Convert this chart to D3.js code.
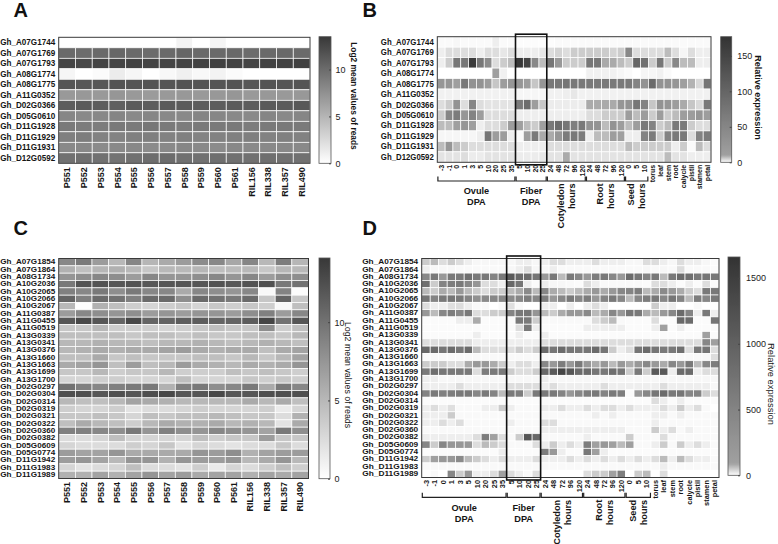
<!DOCTYPE html>
<html><head><meta charset="utf-8">
<script src="https://cdn.jsdelivr.net/npm/d3@7"></script>
<style>
body{margin:0;background:#fff}
svg{display:block}
</style>
</head><body>
<svg id="chart" width="778" height="544"></svg>
<script>
// ---------------- DATA ----------------
const accessions = ["P551","P552","P553","P554","P555","P556","P557","P558","P559","P560","P561","RIL156","RIL338","RIL357","RIL490"];
const tissueLabels = ["-3","-1","0","1","3","5","10","20","25","35","5","10","20","25","24","48","72","96","120","24","48","72","96","120","0","5","10","torus","leaf","stem","root","calycle","pistil","stamen","petal"];
const groupNames = [["Ovule","DPA"],["Fiber","DPA"],["Cotyledon","hours"],["Root","hours"],["Seed","hours"]];
const groupRanges = [[0,9],[10,13],[14,18],[19,23],[24,26]];

const genesAB = ["Gh_A07G1744","Gh_A07G1769","Gh_A07G1793","Gh_A08G1774","Gh_A08G1775","Gh_A11G0352","Gh_D02G0366","Gh_D05G0610","Gh_D11G1928","Gh_D11G1929","Gh_D11G1931","Gh_D12G0592"];
const genesCD = ["Gh_A07G1854","Gh_A07G1864","Gh_A08G1734","Gh_A10G2036","Gh_A10G2065","Gh_A10G2066","Gh_A10G2067","Gh_A11G0387","Gh_A11G0455","Gh_A11G0519","Gh_A13G0339","Gh_A13G0341","Gh_A13G0376","Gh_A13G1660","Gh_A13G1663","Gh_A13G1699","Gh_A13G1700","Gh_D02G0297","Gh_D02G0304","Gh_D02G0314","Gh_D02G0319","Gh_D02G0321","Gh_D02G0322","Gh_D02G0360","Gh_D02G0382","Gh_D05G0609","Gh_D05G0774","Gh_D11G1942","Gh_D11G1983","Gh_D11G1989"];

// Panel A: log2 mean values of reads
const valuesA = [
 [0,0,0,0,0,0,0,0.8,0,0.7,0,0,0,0,0],
 [10.1,10.0,10.1,10.3,10.1,10.0,10.1,10.4,10.2,10.1,10.2,10.0,10.1,10.2,10.1],
 [12.6,12.4,12.7,12.7,12.8,12.7,12.6,12.7,12.8,12.9,12.8,12.7,12.8,12.8,12.9],
 [0.6,0,0.3,1.3,0.6,0,0.5,1.0,0.5,0.8,0.3,0,0,0,0],
 [11.5,11.4,11.4,11.6,11.5,11.6,11.5,11.7,11.6,11.5,11.6,11.4,11.6,11.5,11.6],
 [6.9,7.0,6.9,7.1,6.9,6.8,6.9,7.0,6.9,7.0,7.1,6.9,7.0,6.9,7.0],
 [11.0,11.2,11.0,10.8,11.1,11.0,11.2,11.1,11.0,11.0,11.1,11.0,11.2,11.1,11.3],
 [8.2,8.0,8.1,8.3,8.0,8.2,8.1,8.0,8.3,8.2,8.1,8.0,8.3,8.1,8.2],
 [9.0,8.9,8.8,9.1,9.0,9.2,9.0,8.9,9.1,9.0,9.1,8.9,9.0,9.1,9.0],
 [8.6,8.8,8.5,8.4,8.6,8.7,8.5,8.6,8.4,8.5,8.6,8.7,8.5,8.6,8.5],
 [8.0,8.1,7.9,8.0,8.1,7.9,8.0,8.2,8.0,7.9,8.1,8.0,8.0,8.1,8.0],
 [9.6,9.8,9.6,9.5,9.7,9.9,10.0,9.7,9.6,9.8,9.7,9.6,9.8,9.7,9.6]
];

// Panel B: relative expression
const valuesB = [
 [0.5,0.5,0.8,0.5,0.5,0.5,0.5,1.8,0.5,0.5, 0.3,0.3,0.3,0.3, 0.3,0.5,0.5,0.5,0.5, 0.5,0.5,0.5,0.5,0.5, 0.5,0.5,0.5, 0.5,0.5,0.5,0.5,0.5,0.5,0.5,0.5],
 [1.8,3.6,3.6,3.6,3.6,1.8,3.6,3.6,2.5,3.6, 1.8,1.8,1.8,2.5, 3.6,4.5,3.6,5.4,5.4, 5.4,5.4,5.4,4.5,5.4, 47,3.6,3.6, 3.6,3.6,7.1,3.6,1.0,3.6,1.8,1.8],
 [1.8,5.4,73,73,165,73,40,3.6,5.4,7.1, 170,151,47,7.1, 73,21,5.4,5.4,5.4, 73,73,9,9,7.1, 5.4,99,80, 5.4,73,5.4,47,7.1,7.1,1.8,1.8],
 [0,0,0,0,0,0,0,12,1.5,0, 0,0,0,0, 0,0,0,0,0, 1.5,1.5,1.5,1.5,1, 0.5,0,1, 1,1.5,0.5,0,0,0,0,0],
 [25,25,12,70,30,30,15,6,15,25, 25,15,6,25, 70,70,75,70,70, 70,70,72,70,70, 70,55,30, 90,30,30,25,12,8,4,75],
 [1.5,1.5,1.5,1.5,1.5,1.5,1.5,1.5,1.5,1.5, 1,1,1,1, 1.5,1.5,1.8,2.5,1.5, 1.5,1.5,1.5,1.5,1.5, 1.5,1.5,1.5, 1.5,1.5,1.5,1.5,1.5,1.5,1.5,1.5],
 [3.6,5.4,30,3.6,50,3.6,3,3,3,3, 70,90,15,6, 2,2,2,2,2, 9,9,9,9,25, 30,75,55, 6,30,25,15,9,6,4,70],
 [5.4,50,65,25,55,15,3.6,3.6,3.6,3.6, 1.8,1.8,1.8,1.8, 1.8,1.8,1.8,1.8,1.8, 3.6,3.6,5.4,5.4,5.4, 15,7.1,15, 5.4,15,5.4,7.1,15,15,25,15],
 [7.1,7.1,12,25,12,1.8,3.6,3.6,5.4,15, 12,7.1,5.4,12, 70,90,75,60,70, 30,30,7.1,30,15, 7.1,15,70, 55,5.4,7.1,70,70,5.4,3.6,3.6],
 [1,1,1,1,1,1.8,75,15,15,1.8, 0.5,15,70,9, 9,25,65,70,65, 1.8,7.1,7.1,15,12, 1.8,1.8,55, 65,5.4,55,70,70,3.6,55,65],
 [7.1,25,7.1,5.4,3.6,3.6,3.6,3.6,3.6,3.6, 1.8,1.8,1.8,1.8, 3.6,3.6,3.6,3.6,3.6, 3.6,3.6,3.6,3.6,3.6, 7.1,5.4,5.4, 5.4,5.4,5.4,1.8,5.4,0.5,7.1,3.6],
 [3,3,3,3.6,2,2,3,3,3,3, 2,2,2,2.5, 3,3,9,3,3, 3,3,3,3,3, 3,3,3, 3,3,7.1,3,3,1.8,1.8,1.8]
];

// Panel C: log2 mean values of reads
const valuesC = [
 [8.4,9.4,7.0,5.0,8.6,5.2,6.0,7.0,8.2,8.4,6.2,8.6,5.0,9.2,5.2],
 [5.5,4.5,5.2,5.5,5.0,4.0,5.0,5.0,5.2,4.6,4.8,5.0,4.0,5.2,5.0],
 [7.5,8.0,8.5,8.0,7.0,8.5,7.5,7.5,8.0,8.5,7.5,8.5,7.0,8.0,8.0],
 [9.5,12.2,12.2,12.0,12.2,11.8,12.0,12.0,12.0,12.2,11.8,12.2,12.4,9.6,10.0],
 [9.0,8.5,9.5,8.0,9.5,8.5,8.5,6.0,8.5,8.0,7.5,8.5,0.5,8.8,0.2],
 [11.0,9.0,10.5,10.0,9.0,10.5,10.5,8.0,10.5,10.0,9.5,10.5,4.0,11.0,4.0],
 [5.0,0.1,5.5,4.5,3.5,3.0,3.5,4.0,3.0,4.0,3.5,4.0,3.5,0.5,4.5],
 [7.0,8.5,8.0,7.5,8.0,7.0,7.5,7.0,7.5,7.5,7.0,8.0,9.0,7.0,8.5],
 [12.0,13.0,12.0,11.0,13.0,11.0,11.0,11.5,11.5,11.0,11.0,11.5,13.2,10.0,12.0],
 [4.0,4.0,5.0,3.5,3.5,3.5,3.0,3.5,4.0,4.5,4.0,4.0,8.0,3.5,4.5],
 [4.5,4.5,4.5,4.5,4.0,4.5,4.5,4.0,4.5,4.0,4.0,4.5,4.5,4.0,5.0],
 [5.0,5.0,5.5,5.0,5.0,4.5,5.0,5.0,5.5,5.0,4.5,5.0,5.5,5.0,4.5],
 [5.0,5.5,6.0,5.5,6.0,6.0,6.5,7.0,6.0,5.5,6.0,6.0,4.5,6.0,6.5],
 [4.5,4.5,6.0,4.0,4.5,4.0,4.0,4.0,4.5,4.5,4.0,5.0,4.0,5.0,6.5],
 [6.0,6.5,7.5,4.5,7.0,4.5,5.0,7.0,6.0,5.5,5.0,6.0,5.5,6.0,7.5],
 [4.0,4.0,5.0,3.5,4.0,4.0,5.0,3.5,3.5,3.5,4.5,4.0,4.5,4.0,3.5],
 [3.0,3.0,3.5,3.5,3.0,3.0,3.0,4.5,3.0,3.0,3.0,4.0,3.5,4.0,3.5],
 [10.0,9.0,8.5,9.0,9.5,9.5,5.5,9.0,9.5,8.0,8.5,9.5,6.0,9.5,8.5],
 [12.5,12.5,12.0,12.5,12.0,12.5,13.0,12.0,12.0,13.0,12.0,12.0,12.5,12.5,12.5],
 [5.0,4.5,4.5,5.0,6.5,6.0,5.5,5.0,5.0,5.0,5.0,6.0,5.0,6.0,4.5],
 [3.5,3.0,3.0,3.5,2.0,2.5,2.5,3.0,3.5,3.0,3.0,3.0,3.5,1.5,3.0],
 [4.0,4.0,4.5,4.0,3.0,4.5,4.0,4.5,4.5,5.0,4.5,4.0,4.0,2.5,5.5],
 [4.5,6.0,5.0,4.5,3.5,5.0,6.0,5.5,5.5,6.0,5.0,5.5,5.0,2.0,6.0],
 [9.0,9.0,8.5,8.0,9.5,7.5,9.0,8.0,7.5,8.5,8.0,7.5,6.5,9.5,8.0],
 [2.5,2.5,3.0,4.5,3.0,3.0,3.0,3.0,4.5,3.5,4.0,4.0,7.0,4.0,4.0],
 [3.0,2.5,2.5,2.5,3.5,3.0,4.0,2.0,3.0,2.5,2.0,2.5,2.5,4.0,2.5],
 [7.0,6.5,6.5,7.5,6.0,6.0,6.0,6.0,7.5,7.0,8.0,5.5,6.5,7.0,7.0],
 [7.0,7.5,6.5,5.0,7.5,7.5,5.5,7.5,7.0,7.0,7.5,5.0,6.0,7.5,5.0],
 [3.0,2.0,2.5,3.0,4.5,2.5,2.5,2.0,3.5,1.5,3.0,2.5,3.5,4.5,3.5],
 [5.5,5.5,6.5,5.5,6.5,7.5,6.5,7.0,6.0,6.5,6.5,5.5,6.5,6.0,6.5]
];

// Panel D: relative expression
const valuesD = [
 [48,64,32,48,32,16,8,8,8,8, 8,16,16,8, 16,32,32,16,16, 16,32,16,16,16, 8,8,32, 32,16,8,32,16,16,8,4],
 [16,8,8,8,6,6,6,6,6,6, 8,16,32,8, 8,16,6,6,6, 6,6,6,6,6, 6,6,8, 6,8,6,32,6,6,6,4],
 [450,650,200,650,650,800,650,650,500,650, 1100,900,850,700, 200,650,64,650,450, 200,600,650,450,200, 850,700,500, 650,64,650,850,800,650,700,650],
 [800,48,500,600,650,450,250,32,32,16, 900,700,16,5, 16,8,8,6,4, 32,16,6,6,6, 6,6,4, 32,32,16,4,16,4,32,4],
 [64,48,80,64,200,64,48,32,48,48, 64,80,400,64, 450,80,64,48,64, 80,200,80,200,450, 500,600,64, 80,400,200,80,48,32,650,650],
 [700,500,650,700,650,500,300,400,450,450, 400,450,600,450, 600,200,450,650,450, 600,200,500,650,450, 64,450,600, 650,450,700,500,64,600,450,650],
 [32,16,16,30,32,16,6,6,0,6, 30,6,0,0, 16,16,0,16,0, 16,32,16,0,0, 0,0,0, 48,16,16,0,0,6,0,0],
 [200,64,450,600,450,650,32,32,48,48, 500,650,700,250, 64,48,80,200,200, 400,64,80,450,200, 700,650,80, 64,200,450,850,500,16,650,16],
 [4,4,4,4,16,16,80,4,4,4, 4,650,650,48, 6,6,6,6,6, 6,32,48,64,6, 4,4,4, 32,4,4,900,850,4,4,700],
 [4,4,4,4,4,4,4,4,4,4, 4,32,650,16, 4,4,4,4,4, 16,16,16,16,16, 4,4,4, 16,90,4,16,4,4,4,4],
 [4,4,4,4,4,4,16,4,4,4, 4,16,4,4, 16,4,4,4,4, 4,4,4,4,4, 4,4,4, 4,4,4,4,4,4,90,4],
 [32,32,32,32,32,32,16,16,16,16, 16,16,16,16, 32,32,32,32,32, 32,32,32,32,32, 32,32,32, 32,32,32,32,32,32,450,100],
 [900,850,700,850,700,850,64,32,32,32, 32,48,32,48, 850,700,850,700,650, 700,850,700,48,16, 32,700,850, 700,650,650,800,32,650,700,32],
 [6,6,6,6,6,6,6,6,6,6, 6,6,6,6, 6,6,6,6,6, 6,6,6,6,6, 6,6,6, 6,6,6,6,6,6,6,32],
 [48,48,48,32,32,80,200,200,80,48, 16,32,32,16, 450,200,600,200,650, 200,80,200,64,200, 80,200,450, 200,80,450,200,650,64,450,600],
 [650,800,700,650,650,650,32,600,650,650, 48,32,32,48, 900,1100,1400,1150,850, 850,700,650,800,700, 48,650,48, 1100,1100,16,850,850,16,32,32],
 [16,16,8,8,8,8,8,8,8,8, 8,8,8,8, 16,8,8,8,8, 8,8,8,8,8, 8,8,8, 8,8,8,8,8,8,8,8],
 [16,16,16,16,32,16,16,16,16,16, 32,32,32,32, 16,32,16,16,16, 16,16,32,16,16, 16,16,16, 16,32,16,16,16,16,16,8],
 [500,650,550,600,650,650,450,650,500,64, 650,600,48,650, 650,650,500,200,450, 600,650,500,650,600, 5,200,450, 700,850,650,700,450,500,48,32],
 [4,4,4,4,4,4,4,4,4,4, 4,4,4,4, 4,4,4,4,4, 4,4,4,4,4, 4,4,4, 32,16,4,16,4,4,4,4],
 [16,32,16,30,6,6,6,16,16,48, 16,6,6,6, 16,16,32,16,16, 32,16,32,32,16, 32,16,16, 16,32,16,48,16,32,6,0],
 [16,16,16,48,6,6,6,6,6,6, 6,6,6,6, 6,6,6,6,6, 6,16,6,16,6, 6,6,6, 16,16,6,16,6,6,6,6],
 [16,16,32,16,32,6,6,6,6,6, 16,6,6,6, 32,32,6,6,6, 6,6,6,6,6, 6,6,6, 16,6,6,6,6,6,6,6],
 [6,6,6,6,6,6,6,6,6,6, 6,6,6,6, 16,16,16,16,16, 16,16,16,16,16, 6,6,6, 48,16,32,6,16,6,6,6],
 [16,16,16,16,16,16,32,600,90,32, 6,48,1150,900, 6,6,6,6,6, 16,6,6,6,6, 48,6,6, 6,32,6,6,6,6,6,6],
 [450,48,450,220,220,200,32,64,48,32, 6,6,6,32, 16,48,16,32,16, 600,90,200,90,64, 100,6,6, 16,48,6,48,16,32,16,6],
 [4,4,4,4,4,4,4,4,4,16, 4,4,4,4, 600,200,16,4,4, 650,90,16,4,4, 4,4,4, 4,4,4,4,4,4,4,4],
 [48,90,200,200,400,64,48,32,16,32, 16,16,16,32, 16,16,16,32,16, 32,16,32,16,32, 16,32,16, 32,64,16,64,32,16,16,6],
 [6,6,6,6,6,6,6,6,6,6, 6,6,6,6, 6,6,6,6,6, 6,6,6,6,6, 6,6,6, 6,16,6,6,6,6,6,6],
 [0,6,0,450,48,200,16,16,32,90, 32,16,6,32, 0,0,0,0,0, 32,48,48,90,600, 0,48,64, 0,32,0,0,0,0,0,0]
];

const ticksLog = [0,5,10];
const ticksB = [0,50,100,150];
const ticksD = [0,500,1000,1500];

// ---------------- DRAWING ----------------
const FONT = "'Liberation Sans', Arial, Helvetica, sans-serif";
const svg = d3.select("#chart").attr("font-family", FONT);
const defs = svg.append("defs");

const colorA = d3.scaleLinear().domain([0, 13.5]).range(["#ffffff", "#383838"]).clamp(true);
const colorC = d3.scaleLinear().domain([0, 14.1]).range(["#ffffff", "#383838"]).clamp(true);
const colorB = d3.scaleLinear().domain([0, 10, 177]).range(["#ffffff", "#a0a0a0", "#333333"]).clamp(true);
const colorD = d3.scaleLinear().domain([0, 90, 1660]).range(["#ffffff", "#a0a0a0", "#333333"]).clamp(true);

function heatmap(o) {
  const g = svg.append("g");
  const x = d3.scaleBand().domain(d3.range(o.cols.length)).range([o.x0, o.x1]);
  const y = d3.scaleBand().domain(o.rows).range([o.y0, o.y1]);
  const cells = [];
  o.values.forEach((row, i) => row.forEach((v, j) => cells.push({ r: o.rows[i], c: j, v })));
  g.selectAll("rect.cell").data(cells).join("rect")
    .attr("class", "cell")
    .attr("x", d => x(d.c)).attr("y", d => y(d.r))
    .attr("width", x.bandwidth()).attr("height", y.bandwidth())
    .attr("fill", d => o.color(d.v))
    .attr("stroke", "#ffffff").attr("stroke-width", 0.7);
  g.append("rect").attr("x", o.x0).attr("y", o.y0)
    .attr("width", o.x1 - o.x0).attr("height", o.y1 - o.y0)
    .attr("fill", "none").attr("stroke", "#3a3a3a").attr("stroke-width", 1);

  // row labels
  const ya = g.append("g").attr("transform", `translate(${o.x0 - 3.5},0)`)
    .call(d3.axisLeft(y).tickSize(0).tickPadding(0));
  ya.select(".domain").remove();
  ya.attr("font-family", FONT).attr("font-size", o.rowFont);
  ya.selectAll("text").attr("font-weight", "bold").attr("fill", "#151515")
    .attr("textLength", o.rowLen).attr("lengthAdjust", "spacingAndGlyphs");

  // column labels
  const xa = g.append("g").attr("transform", `translate(0,${o.y1 + o.colGap})`)
    .call(d3.axisBottom(x).tickSize(0).tickFormat(i => o.cols[i]));
  xa.select(".domain").remove();
  xa.attr("font-family", FONT).attr("font-size", o.colFont);
  xa.selectAll("text").attr("transform", "rotate(-90)")
    .attr("text-anchor", "end").attr("x", 0).attr("y", 0).attr("dy", "0.36em")
    .attr("font-weight", "bold").attr("fill", "#151515");
  return { g, x, y };
}

function fiberBox(h, o) {
  const x0 = h.x(10), x1 = h.x(13) + h.x.bandwidth();
  h.g.append("rect").attr("x", x0).attr("y", o.y0 - 2.5)
    .attr("width", x1 - x0).attr("height", o.y1 - o.y0 + 5)
    .attr("fill", "none").attr("stroke", "#111").attr("stroke-width", 1.6);
}

function brackets(h, by) {
  const bw = h.x.bandwidth();
  groupRanges.forEach((r, gi) => {
    const a = h.x(r[0]) + 0.6, b = h.x(r[1]) + bw - 0.6;
    h.g.append("path")
      .attr("d", `M${a},${by - 4.5}V${by}H${b}V${by - 4.5}`)
      .attr("fill", "none").attr("stroke", "#222").attr("stroke-width", 1.2);
    const mid = (a + b) / 2;
    const names = groupNames[gi];
    names.forEach((t, li) => {
      if (gi < 2) {
        h.g.append("text").attr("x", mid).attr("y", by + 11 + li * 11)
          .attr("text-anchor", "middle").attr("dominant-baseline", "middle")
          .attr("font-size", 9.2).attr("font-weight", "bold").attr("fill", "#151515").text(t);
      } else {
        const tx = mid + (li === 0 ? -5.5 : 5.5);
        const holder = h.g.append("g").attr("transform", "translate(" + tx + "," + (by + 2.5) + ")");
        holder.append("text")
          .attr("class", "vlab")
          .attr("transform", "rotate(-90)")
          .attr("x", 0).attr("y", 0).attr("dy", "0.35em")
          .attr("text-anchor", "end")
          .attr("font-size", 9.2).attr("font-weight", "bold").attr("fill", "#151515").text(t);
      }
    });
  });
}

let gradId = 0;
function colorbar(o) {
  const id = "grad" + (gradId++);
  const lg = defs.append("linearGradient").attr("id", id)
    .attr("x1", 0).attr("y1", 1).attr("x2", 0).attr("y2", 0);
  d3.range(0, 1.0001, 0.01).forEach(t => {
    lg.append("stop").attr("offset", t).attr("stop-color", o.color(t * o.max));
  });
  const s = d3.scaleLinear().domain([0, o.max]).range([o.y1, o.y0]);
  svg.append("rect").attr("x", o.x0).attr("y", o.y0)
    .attr("width", o.x1 - o.x0).attr("height", o.y1 - o.y0)
    .attr("fill", `url(#${id})`).attr("stroke", "#555").attr("stroke-width", 0.8);
  const ax = svg.append("g").attr("transform", `translate(${o.x1},0)`)
    .call(d3.axisRight(s).tickValues(o.ticks).tickSize(2).tickPadding(o.pad).tickFormat(d3.format("d")));
  ax.select(".domain").remove();
  ax.attr("font-family", FONT).attr("font-size", 9);
  ax.selectAll("line").attr("stroke", "#444").attr("transform", "translate(-2,0)");
  ax.selectAll("text").attr("fill", "#222");
  svg.append("text")
    .attr("transform", `translate(${o.tx},${o.ty}) rotate(90)`)
    .attr("text-anchor", "middle").attr("dominant-baseline", "middle")
    .attr("font-size", o.tfont).attr("font-weight", o.tweight).attr("fill", "#151515")
    .text(o.title);
}

function panelLetter(t, x, y) {
  svg.append("text").attr("x", x).attr("y", y).attr("font-size", 20)
    .attr("font-weight", "bold").attr("fill", "#111").text(t);
}

// Panel A
const optA = { x0: 58.7, x1: 310, y0: 37.3, y1: 163.3, rows: genesAB, cols: accessions, values: valuesA,
  color: colorA, rowFont: 8.8, rowLen: 55, colFont: 9, colGap: 4 };
heatmap(optA);
colorbar({ x0: 319, x1: 331, y0: 36.7, y1: 163.3, max: 13.5, color: colorA, ticks: ticksLog, pad: 2.5,
  title: "Log2 mean values of reads", tx: 353.5, ty: 96, tfont: 8.4, tweight: "bold" });

// Panel B
const optB = { x0: 437.3, x1: 711, y0: 36.7, y1: 162.3, rows: genesAB, cols: tissueLabels, values: valuesB,
  color: colorB, rowFont: 8.8, rowLen: 53, colFont: 7, colGap: 2.5 };
const hB = heatmap(optB);
fiberBox(hB, optB);
brackets(hB, 181);
colorbar({ x0: 720.7, x1: 731.7, y0: 36.7, y1: 162.3, max: 177, color: colorB, ticks: ticksB, pad: 3.5,
  title: "Relative expression", tx: 757, ty: 97.5, tfont: 9, tweight: "bold" });

// Panel C
const optC = { x0: 58.7, x1: 308.5, y0: 258.5, y1: 478.5, rows: genesCD, cols: accessions, values: valuesC,
  color: colorC, rowFont: 6.6, rowLen: 55, colFont: 9, colGap: 3.5 };
heatmap(optC);
colorbar({ x0: 319, x1: 330, y0: 258, y1: 478.7, max: 14.1, color: colorC, ticks: ticksLog, pad: 2.5,
  title: "Log2 mean values of reads", tx: 347.7, ty: 375, tfont: 8.8, tweight: "normal" });

// Panel D
const optD = { x0: 421.7, x1: 719, y0: 258.5, y1: 477.5, rows: genesCD, cols: tissueLabels, values: valuesD,
  color: colorD, rowFont: 6.6, rowLen: 56, colFont: 7.4, colGap: 2.5 };
const hD = heatmap(optD);
fiberBox(hD, optD);
brackets(hD, 497.3);
colorbar({ x0: 728, x1: 740, y0: 257, y1: 475.3, max: 1660, color: colorD, ticks: ticksD, pad: 4,
  title: "Relative expression", tx: 770, ty: 384, tfont: 9.4, tweight: "normal" });

panelLetter("A", 13.5, 17);
panelLetter("B", 362.5, 17);
panelLetter("C", 13.5, 235);
panelLetter("D", 362.5, 235);

// diagnostic: verify that group labels are vertical
const bad = [];
d3.selectAll("text.vlab").each(function() {
  const r = this.getBoundingClientRect();
  if (r.width > r.height) bad.push(this.textContent + ":" + Math.round(r.width) + "x" + Math.round(r.height));
});
if (bad.length) throw new Error("horizontal labels: " + bad.join(", "));
</script>
</body></html>
